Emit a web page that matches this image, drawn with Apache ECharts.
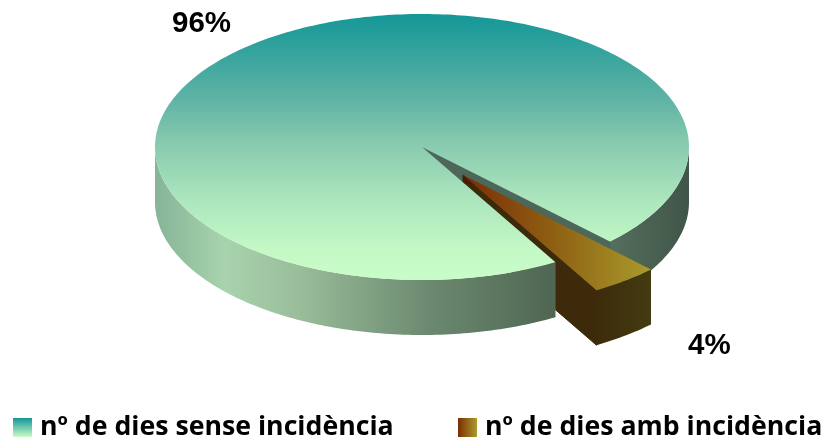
<!DOCTYPE html>
<html>
<head>
<meta charset="utf-8">
<style>html,body{margin:0;padding:0;background:#fff}#c{width:826px;height:441px}</style>
<script src="https://cdn.jsdelivr.net/npm/echarts@6/dist/echarts.min.js"></script>
</head>
<body>
<div id="c"></div>
<script>
const categories = ['nº de dies sense incidència', 'nº de dies amb incidència'];
const values = [95.9, 4.1];
const percentLabels = ['96%', '4%'];

const total = values.reduce((a, b) => a + b, 0);
const G = { cx: 422, cy: 147, rx: 267, ry: 133, depth: 55, offX: 41, offY: 28, endAngle: 60 };
const rad = d => d * Math.PI / 180;
const lin = (x, y, x2, y2, stops) => ({
  type: 'linear', x, y, x2, y2, global: true,
  colorStops: stops.map(s => ({ offset: s[0], color: s[1] }))
});
const pt = (a, cx, cy, dz) => [cx + G.rx * Math.cos(rad(a)), cy + G.ry * Math.sin(rad(a)) + (dz || 0)];
const arc = (a0, a1, cx, cy, dz) => {
  const out = [], n = Math.max(2, Math.ceil(Math.abs(a1 - a0) / 1));
  for (let i = 0; i <= n; i++) out.push(pt(a0 + (a1 - a0) * i / n, cx, cy, dz));
  return out;
};
const poly = (points, fill, z2, stroke) => ({ type: 'polygon', z2, silent: true, shape: { points }, style: { fill, stroke: stroke || null, lineWidth: stroke ? 1 : 0 } });
const side = (a0, a1, cx, cy, fill, z2) =>
  poly(arc(a0, a1, cx, cy, 0).concat(arc(a1, a0, cx, cy, G.depth)), fill, z2);
const wall = (a, cx, cy, fill, z2) => {
  const p = pt(a, cx, cy);
  return poly([[cx, cy], p, [p[0], p[1] + G.depth], [cx, cy + G.depth]], fill, z2, fill);
};

const topFill = lin(0, 14, 0, 280, [[0, '#149797'], [0.32, '#5fb3a5'], [0.474, '#85c8ae'], [0.7, '#ace6bd'], [0.887, '#c4f9c6'], [1, '#c8fcc8']]);
const sliceTopFill = lin(463, 0, 652, 0, [[0, '#7c2c04'], [0.5, '#8f6214'], [1, '#aa9c2c']]);
const labelFont = 'bold 29.5px "Liberation Sans", Arial, sans-serif';

function renderMain(params, api) {
  const sweep = api.value(0) / total * 360;
  const start = G.endAngle;
  const end = start + sweep;
  const { cx, cy } = G;
  return {
    type: 'group',
    children: [
      side(end - 360, 0, cx, cy, lin(609, 0, 689, 0, [[0, '#566f5e'], [1, '#3f5548']]), 1),
      wall(end, cx, cy, '#4d675a', 2),
      side(start, 180, cx, cy, lin(155, 0, 555, 0, [[0, '#85b497'], [0.175, '#a8d3ad'], [0.36, '#9abd9a'], [0.68, '#6c8a70'], [1, '#4f6652']]), 6),
      poly(arc(start, end, cx, cy, 0).concat([[cx, cy]]), topFill, 7),
      { type: 'text', z2: 10, silent: true, style: { text: percentLabels[0], x: 172, y: 9, font: labelFont, fill: '#000' } }
    ]
  };
}

function renderSlice(params, api) {
  const sweep = api.value(0) / total * 360;
  const end = G.endAngle;
  const start = end - sweep;
  const cx = G.cx + G.offX, cy = G.cy + G.offY;
  return {
    type: 'group',
    children: [
      side(start, end, cx, cy, lin(598, 0, 652, 0, [[0, '#3d2c0b'], [1, '#443b11']]), 4),
      wall(end, cx, cy, '#3d2a0b', 5),
      poly(arc(start, end, cx, cy, 0).concat([[cx, cy]]), sliceTopFill, 8),
      poly([[cx, cy], [cx + 12, cy + 10], [cx, cy + 8]], '#4a1c04', 6),
      { type: 'text', z2: 10, silent: true, style: { text: percentLabels[1], x: 688, y: 331, font: labelFont, fill: '#000' } }
    ]
  };
}

const swatchA = { type: 'linear', x: 0, y: 0, x2: 0, y2: 1, colorStops: [{ offset: 0, color: '#149797' }, { offset: 1, color: '#c8fcc8' }] };
const swatchB = { type: 'linear', x: 0, y: 0, x2: 1, y2: 0, colorStops: [{ offset: 0, color: '#7c2c04' }, { offset: 1, color: '#aa9c2c' }] };
const legendText = { fontFamily: '"Open Sans", sans-serif', fontWeight: 'bold', fontSize: 26.7, color: '#000', padding: [0, 0, 0, 3] };
const legendBase = { selectedMode: false, itemWidth: 19, itemHeight: 19, itemGap: 0, top: 414, padding: 0, textStyle: legendText };

const chart = echarts.init(document.getElementById('c'), null, { renderer: 'canvas' });
chart.setOption({
  animation: false,
  backgroundColor: '#fff',
  legend: [
    Object.assign({}, legendBase, { left: 13, data: [{ name: categories[0], icon: 'rect', itemStyle: { color: swatchA } }] }),
    Object.assign({}, legendBase, { left: 458, data: [{ name: categories[1], icon: 'rect', itemStyle: { color: swatchB } }] })
  ],
  series: [
    { type: 'custom', name: categories[0], coordinateSystem: 'none', silent: true, data: [[values[0]]], renderItem: renderMain, itemStyle: { color: '#149797' } },
    { type: 'custom', name: categories[1], coordinateSystem: 'none', silent: true, data: [[values[1]]], renderItem: renderSlice, itemStyle: { color: '#7c2c04' } }
  ]
});
</script>
</body>
</html>
